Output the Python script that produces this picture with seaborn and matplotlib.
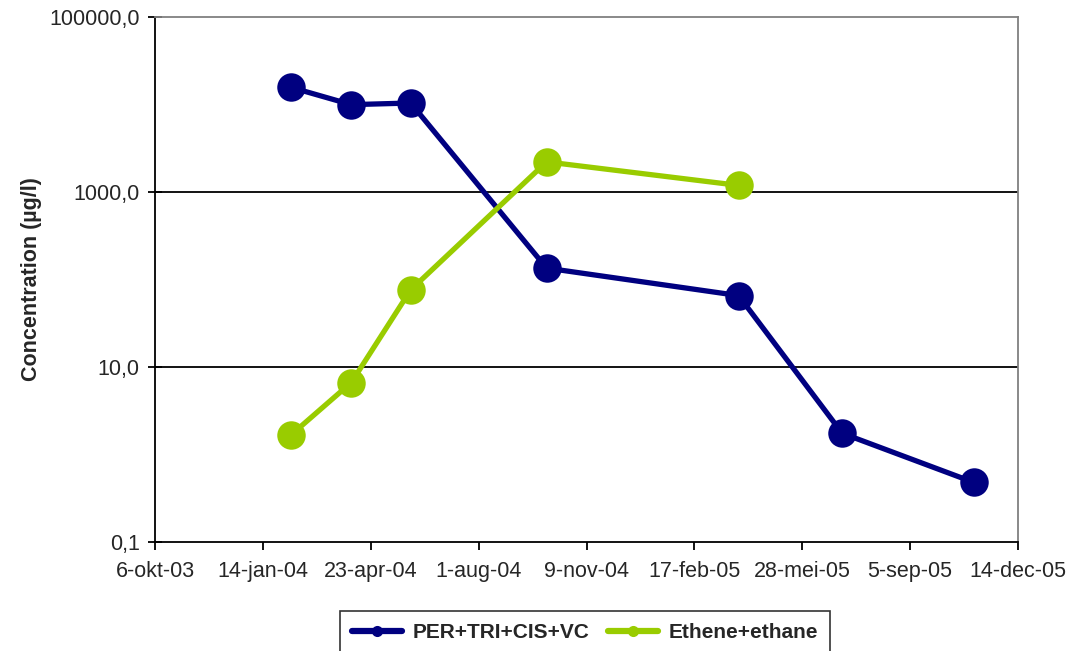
import matplotlib
matplotlib.use("Agg")
import matplotlib.pyplot as plt
import matplotlib.dates as mdates
from matplotlib.ticker import FixedLocator, FuncFormatter, NullLocator
import seaborn as sns
import pandas as pd
import numpy as np

# ---- data ----
per_dates = ["2004-02-09", "2004-04-05", "2004-05-30", "2004-10-03",
             "2005-03-30", "2005-07-04", "2005-11-03"]
per_values = [15700, 9960, 10400, 135, 65.5, 1.75, 0.48]

eth_dates = ["2004-02-09", "2004-04-05", "2004-05-30", "2004-10-03", "2005-03-30"]
eth_values = [1.67, 6.65, 76, 2210, 1190]

series_names = ["PER+TRI+CIS+VC", "Ethene+ethane"]
series_colors = ["#000080", "#99CC00"]

y_ticks = [0.1, 10, 1000, 100000]
y_tick_labels = ["0,1", "10,0", "1000,0", "100000,0"]

x_start = "2003-10-06"
x_end = "2005-12-14"
x_step_days = 100
month_names = ["jan", "feb", "mrt", "apr", "mei", "jun", "jul", "aug",
               "sep", "okt", "nov", "dec"]

y_label = "Concentration (µg/l)"

# ---- frame ----
df = pd.concat([
    pd.DataFrame({"date": pd.to_datetime(per_dates), "value": per_values,
                  "series": series_names[0]}),
    pd.DataFrame({"date": pd.to_datetime(eth_dates), "value": eth_values,
                  "series": series_names[1]}),
], ignore_index=True)

sns.set_style("white")
plt.rcParams["font.family"] = ["Liberation Sans", "DejaVu Sans"]

fig = plt.figure(figsize=(10.86, 6.51), dpi=100)
ax = fig.add_axes([155 / 1086, 1 - 542 / 651, (1018 - 155) / 1086, (542 - 17) / 651])

sns.lineplot(data=df, x="date", y="value", hue="series", hue_order=series_names,
             palette=series_colors, marker="o", markersize=20.5, markeredgewidth=0,
             linewidth=3.8, dashes=False, ax=ax, legend=True, sort=False)

ax.set_yscale("log")
ax.set_ylim(0.1, 100000)
ax.yaxis.set_major_locator(FixedLocator(y_ticks))
ax.yaxis.set_minor_locator(NullLocator())
ax.set_yticklabels(y_tick_labels)

start = pd.Timestamp(x_start)
end = pd.Timestamp(x_end)
ticks = pd.date_range(start, end, freq=f"{x_step_days}D")
ax.set_xlim(start, end)
ax.xaxis.set_major_locator(FixedLocator(mdates.date2num(ticks)))


def fmt(v, pos):
    d = mdates.num2date(v)
    return f"{d.day}-{month_names[d.month - 1]}-{d:%y}"


ax.xaxis.set_major_formatter(FuncFormatter(fmt))

# gridlines at 10 and 1000 only
for yv in [10, 1000]:
    ax.axhline(yv, color="black", lw=1.3, zorder=0.5)

for s in ["left", "bottom"]:
    ax.spines[s].set_color("black")
    ax.spines[s].set_linewidth(1.3)
for s in ["top", "right"]:
    ax.spines[s].set_color("#808080")
    ax.spines[s].set_linewidth(1.3)

ax.tick_params(axis="y", which="major", direction="inout", length=10, width=1.3,
               left=True, labelsize=15.5, pad=6, color="black")
ax.tick_params(axis="x", which="major", direction="out", length=6, width=1.3,
               bottom=True, labelsize=15.5, pad=8, color="black")

ax.set_xlabel("")
ax.set_ylabel(y_label, fontsize=15.5, fontweight="bold", labelpad=5)

ax.get_legend().remove()
handles = [plt.Line2D([], [], color=c, lw=4.5, marker="o", markersize=8,
                      markeredgewidth=0) for c in series_colors]
leg = fig.legend(handles, series_names, loc="upper center",
                 bbox_to_anchor=(585 / 1086, 1 - 611 / 651), ncol=2,
                 frameon=True, fancybox=False, edgecolor="black",
                 prop={"size": 15, "weight": "bold"}, handlelength=2.4,
                 columnspacing=0.9, handletextpad=0.5, borderpad=0.6,
                 borderaxespad=0)
leg.get_frame().set_linewidth(1.2)

fig.savefig("out.png", dpi=100)
